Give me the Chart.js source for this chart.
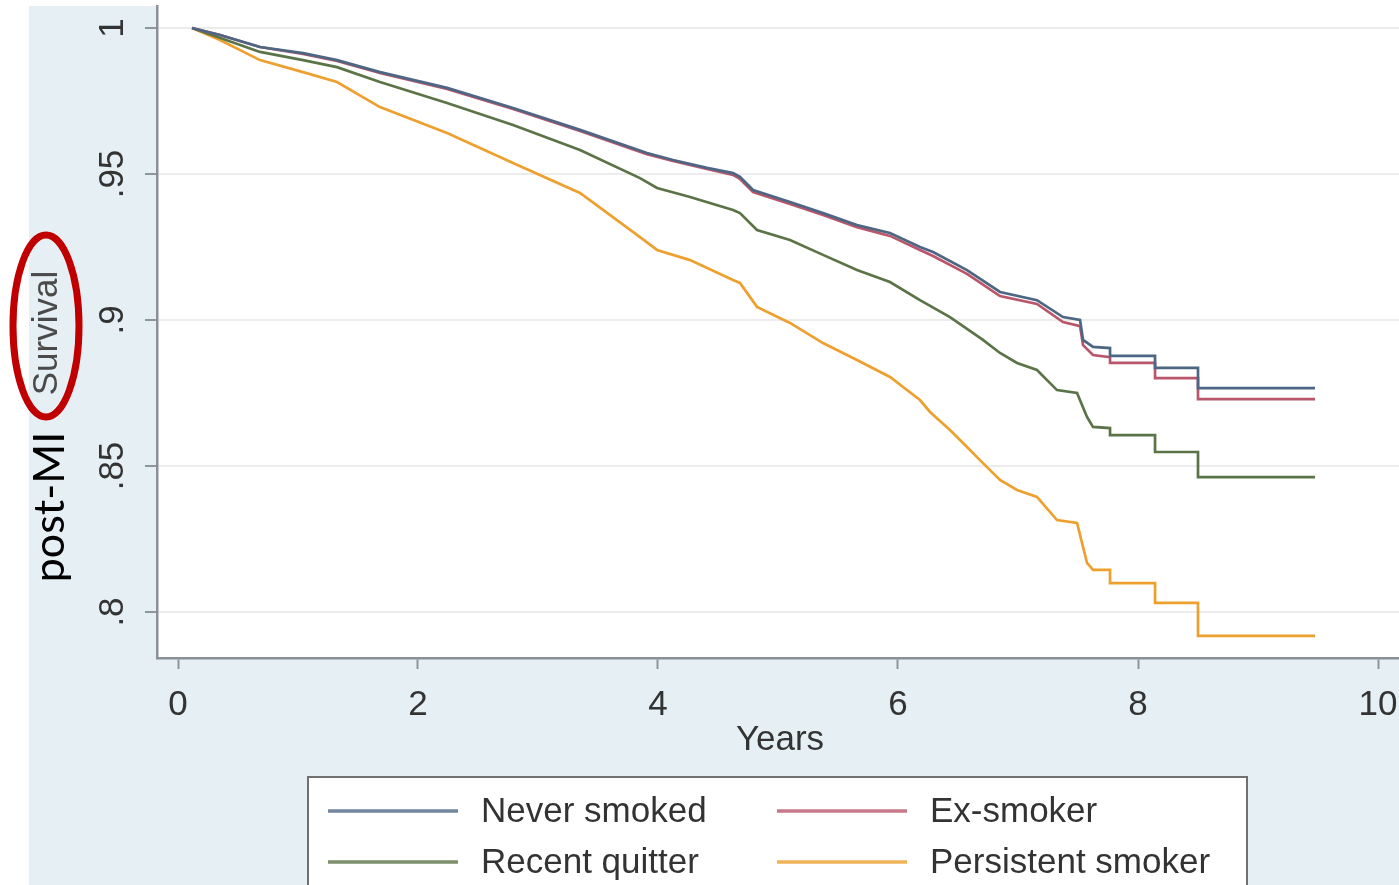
<!DOCTYPE html>
<html>
<head>
<meta charset="utf-8">
<script src="https://cdn.jsdelivr.net/npm/chart.js@4.4.1/dist/chart.umd.min.js"></script>
<style>
  html, body { margin: 0; padding: 0; background: #ffffff; overflow: hidden; }
  #wrap { width: 1399px; height: 885px; position: relative; }
</style>
</head>
<body>
<div id="wrap"><canvas id="c" width="1399" height="885"></canvas></div>
<script>
// ---- data ----
const seriesLabels = ["Never smoked", "Ex-smoker", "Recent quitter", "Persistent smoker"];
const xTicks = [0, 2, 4, 6, 8, 10];
const yTicks = [1, 0.95, 0.9, 0.85, 0.8];
const yTickLabels = ["1", ".95", ".9", ".85", ".8"];
const xTitle = "Years";
const yTitleMain = "post-MI";
const yTitleCircled = "Survival";

const neverX = [0.117, 0.35, 0.683, 1.042, 1.325, 1.683, 2.242, 2.792, 3.35, 3.908, 4.125, 4.408, 4.625, 4.683, 4.792, 5.1, 5.375, 5.658, 5.933, 6.183, 6.292, 6.575, 6.85, 7.158, 7.375, 7.517, 7.542, 7.625, 7.767, 7.767, 8.142, 8.142, 8.5, 8.5, 9.475];
const neverY = [1.0, 0.9976, 0.9935, 0.9914, 0.9890, 0.9849, 0.9795, 0.9726, 0.9651, 0.9572, 0.9548, 0.9521, 0.9503, 0.9490, 0.9445, 0.9404, 0.9366, 0.9325, 0.9298, 0.9250, 0.9233, 0.9171, 0.9096, 0.9068, 0.9010, 0.9000, 0.8932, 0.8908, 0.8904, 0.8877, 0.8877, 0.8836, 0.8836, 0.8767, 0.8767];

const exX = [0.117, 0.35, 0.683, 1.042, 1.325, 1.683, 2.242, 2.792, 3.35, 3.908, 4.125, 4.408, 4.625, 4.683, 4.792, 5.1, 5.375, 5.658, 5.933, 6.183, 6.292, 6.575, 6.85, 7.158, 7.375, 7.517, 7.542, 7.625, 7.767, 7.767, 8.142, 8.142, 8.5, 8.5, 9.475];
const exY = [1.0, 0.9976, 0.9935, 0.9911, 0.9887, 0.9846, 0.9791, 0.9723, 0.9647, 0.9568, 0.9545, 0.9517, 0.9497, 0.9483, 0.9438, 0.9397, 0.9360, 0.9318, 0.9288, 0.9240, 0.9219, 0.9158, 0.9082, 0.9055, 0.8993, 0.8979, 0.8914, 0.8880, 0.8873, 0.8853, 0.8853, 0.8801, 0.8801, 0.8729, 0.8729];

const recentX = [0.117, 0.683, 1.042, 1.325, 1.683, 2.242, 2.792, 3.35, 3.85, 3.992, 4.267, 4.625, 4.683, 4.825, 5.1, 5.375, 5.658, 5.933, 6.183, 6.433, 6.708, 6.85, 6.992, 7.158, 7.325, 7.492, 7.575, 7.625, 7.767, 7.767, 8.142, 8.142, 8.5, 8.5, 9.475];
const recentY = [1.0, 0.9918, 0.9890, 0.9866, 0.9815, 0.9743, 0.9668, 0.9582, 0.9486, 0.9452, 0.9421, 0.9377, 0.9366, 0.9308, 0.9274, 0.9223, 0.9171, 0.9130, 0.9068, 0.9010, 0.8932, 0.8887, 0.8853, 0.8829, 0.8760, 0.8750, 0.8668, 0.8634, 0.8630, 0.8606, 0.8606, 0.8548, 0.8548, 0.8462, 0.8462];

const persistX = [0.117, 0.35, 0.683, 1.042, 1.325, 1.683, 2.242, 2.792, 3.35, 3.85, 3.992, 4.267, 4.625, 4.683, 4.825, 5.1, 5.375, 5.658, 5.933, 6.183, 6.267, 6.433, 6.575, 6.708, 6.85, 6.992, 7.158, 7.325, 7.492, 7.575, 7.625, 7.767, 7.767, 8.142, 8.142, 8.5, 8.5, 9.475];
const persistY = [1.0, 0.9959, 0.9890, 0.9849, 0.9815, 0.9729, 0.9640, 0.9538, 0.9435, 0.9284, 0.9240, 0.9205, 0.9137, 0.9127, 0.9045, 0.8990, 0.8921, 0.8863, 0.8805, 0.8726, 0.8685, 0.8623, 0.8565, 0.8510, 0.8452, 0.8418, 0.8394, 0.8315, 0.8305, 0.8168, 0.8144, 0.8144, 0.8099, 0.8099, 0.8031, 0.8031, 0.7918, 0.7918];

const seriesColors = ["#4d6684", "#b9566b", "#5b7447", "#eea02e"];

function pts(xs, ys) { return xs.map((x, i) => ({ x: x, y: ys[i] })); }
const allX = [neverX, exX, recentX, persistX];
const allY = [neverY, exY, recentY, persistY];

const TEXT = "#333333";
const FONT = "'Liberation Sans', Arial, sans-serif";

const decorPlugin = {
  id: 'decor',
  beforeDraw(chart) {
    const ctx = chart.ctx;
    ctx.save();
    ctx.fillStyle = "#ffffff";
    ctx.fillRect(0, 0, chart.width, chart.height);
    ctx.fillStyle = "#e6eff3";
    ctx.fillRect(29, 6, chart.width - 29, chart.height - 6);
    const a = chart.chartArea;
    ctx.fillStyle = "#ffffff";
    ctx.fillRect(a.left, 0, a.right - a.left, a.bottom);
    ctx.restore();
  },
  afterDraw(chart) {
    const ctx = chart.ctx;
    const ys = chart.scales.y;
    const xs = chart.scales.x;
    ctx.save();
    // y tick labels (rotated)
    ctx.fillStyle = TEXT;
    ctx.font = "35px " + FONT;
    ctx.textAlign = "center";
    ctx.textBaseline = "middle";
    yTicks.forEach((v, i) => {
      const py = ys.getPixelForValue(v);
      ctx.save();
      ctx.translate(113, py);
      ctx.rotate(-Math.PI / 2);
      ctx.fillText(yTickLabels[i], 0, 0);
      ctx.restore();
    });
    // y titles
    ctx.save();
    ctx.translate(50, 507);
    ctx.rotate(-Math.PI / 2);
    ctx.fillStyle = "#000000";
    ctx.font = "43px Lato, 'DejaVu Sans', sans-serif";
    ctx.textAlign = "center";
    ctx.textBaseline = "middle";
    ctx.fillText(yTitleMain, 0, 0);
    ctx.restore();

    ctx.save();
    ctx.translate(47, 333);
    ctx.rotate(-Math.PI / 2);
    ctx.fillStyle = "#4a4a4a";
    ctx.font = "35px " + FONT;
    ctx.textAlign = "center";
    ctx.textBaseline = "middle";
    ctx.fillText(yTitleCircled, 0, 0);
    ctx.restore();

    ctx.beginPath();
    ctx.ellipse(46, 326, 33, 91, 0, 0, Math.PI * 2);
    ctx.lineWidth = 7;
    ctx.strokeStyle = "#c00000";
    ctx.stroke();

    // x title
    ctx.fillStyle = TEXT;
    ctx.font = "35px " + FONT;
    ctx.textAlign = "center";
    ctx.textBaseline = "middle";
    ctx.fillText(xTitle, (xs.getPixelForValue(4) + xs.getPixelForValue(6)) / 2 + 2, 740);

    // legend
    const lx = 308, ly = 777, lw = 939, lh = 120;
    ctx.fillStyle = "#ffffff";
    ctx.fillRect(lx, ly, lw, lh);
    ctx.lineWidth = 2;
    ctx.strokeStyle = "#707070";
    ctx.strokeRect(lx, ly, lw, lh);
    const cols = [328, 777];
    const rows = [811, 862];
    chart.data.datasets.forEach((ds, i) => {
      const cx = cols[i % 2], cy = rows[Math.floor(i / 2)];
      ctx.beginPath();
      ctx.moveTo(cx, cy);
      ctx.lineTo(cx + 130, cy);
      ctx.lineWidth = 3.5;
      ctx.strokeStyle = ds.borderColor;
      ctx.globalAlpha = 0.8;
      ctx.stroke();
      ctx.globalAlpha = 1;
      ctx.fillStyle = TEXT;
      ctx.font = "35px " + FONT;
      ctx.textAlign = "left";
      ctx.textBaseline = "middle";
      ctx.fillText(ds.label, cx + 153, cy + 1);
    });
    ctx.restore();
  }
};

new Chart(document.getElementById('c'), {
  type: 'line',
  data: {
    datasets: seriesLabels.map((lab, i) => ({
      label: lab,
      data: pts(allX[i], allY[i]),
      borderColor: seriesColors[i],
      backgroundColor: seriesColors[i],
      borderWidth: 2.7,
      pointRadius: 0,
      tension: 0,
      fill: false
    }))
  },
  options: {
    responsive: false,
    animation: false,
    layout: { padding: { left: 0, right: 0, top: 6, bottom: 0 } },
    plugins: { legend: { display: false }, tooltip: { enabled: false } },
    scales: {
      x: {
        type: 'linear',
        min: -0.175,
        max: 10.175,
        afterBuildTicks: s => { s.ticks = xTicks.map(v => ({ value: v })); },
        afterFit: s => { s.height = 227; s.paddingLeft = 0; s.paddingRight = 0; },
        grid: { drawOnChartArea: false, drawTicks: true, tickLength: 11, tickColor: "#8f959b", tickWidth: 2 },
        border: { display: true, color: "#8a9096", width: 2.5 },
        ticks: { color: TEXT, font: { size: 35, family: FONT }, padding: 15, maxRotation: 0, autoSkip: false,
                 callback: v => String(v) }
      },
      y: {
        type: 'linear',
        min: 0.78425,
        max: 1.00753,
        afterBuildTicks: s => { s.ticks = yTicks.map(v => ({ value: v })); },
        afterFit: s => { s.width = 157; s.paddingTop = 0; s.paddingBottom = 0; },
        grid: { drawOnChartArea: true, color: "#ececec", lineWidth: 2, drawTicks: true, tickLength: 12, tickColor: "#8f959b", tickWidth: 2 },
        border: { display: true, color: "#8a9096", width: 2.5 },
        ticks: { color: 'rgba(0,0,0,0)', font: { size: 12 }, autoSkip: false }
      }
    }
  },
  plugins: [decorPlugin]
});
</script>
</body>
</html>
